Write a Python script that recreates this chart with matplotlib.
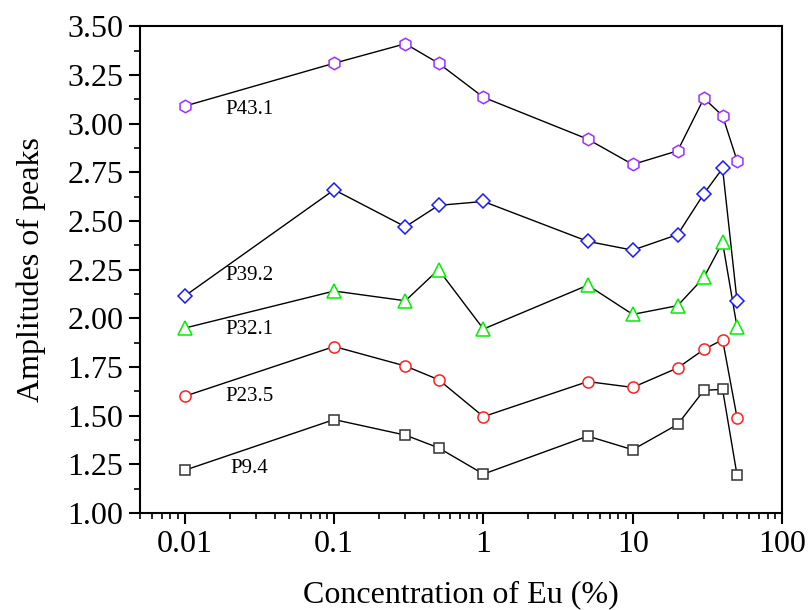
import matplotlib
matplotlib.use('Agg')
import matplotlib.pyplot as plt
from matplotlib.ticker import LogLocator, FixedLocator, NullFormatter, FuncFormatter

plt.rcParams['font.family'] = ['Liberation Serif', 'DejaVu Serif']

# Eu concentration (%) and peak amplitudes
conc = [0.01, 0.1, 0.3, 0.5, 1, 5, 10, 20, 30, 40, 50]
p43_1 = [3.09, 3.31, 3.41, 3.31, 3.135, 2.92, 2.79, 2.86, 3.13, 3.04, 2.81]
p39_2 = [2.115, 2.66, 2.47, 2.58, 2.60, 2.395, 2.35, 2.43, 2.64, 2.77, 2.09]
p32_1 = [1.95, 2.14, 2.09, 2.25, 1.945, 2.17, 2.02, 2.065, 2.21, 2.39, 1.955]
p23_5 = [1.60, 1.855, 1.755, 1.685, 1.495, 1.675, 1.645, 1.745, 1.84, 1.89, 1.49]
p9_4 = [1.22, 1.48, 1.40, 1.335, 1.20, 1.395, 1.325, 1.455, 1.63, 1.635, 1.195]

series = [
    (p43_1, 'P43.1', 'h', '#9B30FF', 9),
    (p39_2, 'P39.2', 'D', '#1A1AFF', 7),
    (p32_1, 'P32.1', '^', '#00EE00', 9.5),
    (p23_5, 'P23.5', 'o', '#FF2020', 8),
    (p9_4, 'P9.4', 's', '#333333', 7),
]
# where each series name sits
label_pos = {'P43.1': (0.027, 3.07), 'P39.2': (0.027, 2.22), 'P32.1': (0.027, 1.945),
             'P23.5': (0.027, 1.60), 'P9.4': (0.027, 1.23)}

fig = plt.figure(figsize=(8.1, 6.1), dpi=100)
ax = fig.add_axes([0.1728, 0.159, 0.7926, 0.798])

for vals, name, mk, col, ms in series:
    ax.plot(conc, vals, color='black', linewidth=1.0, zorder=2)
    ax.plot(conc, vals, linestyle='none', marker=mk, markersize=ms,
            markerfacecolor='white', markeredgecolor=col, markeredgewidth=1.1, zorder=3)
    lx, ly = label_pos[name]
    ax.text(lx, ly, name, fontsize=15, ha='center', va='center', color='black')

ax.set_xscale('log')
ax.set_xlim(0.005, 100)
ax.set_ylim(1.0, 3.5)

ax.xaxis.set_major_locator(FixedLocator([0.01, 0.1, 1, 10, 100]))
ax.xaxis.set_major_formatter(FuncFormatter(lambda v, p: {0.01: '0.01', 0.1: '0.1', 1: '1', 10: '10', 100: '100'}.get(round(v, 4), '')))
ax.xaxis.set_minor_locator(LogLocator(base=10, subs=range(2, 10), numticks=20))
ax.xaxis.set_minor_formatter(NullFormatter())

ax.set_yticks([1.0 + 0.25 * i for i in range(11)])
ax.set_yticks([1.125 + 0.25 * i for i in range(10)], minor=True)
ax.yaxis.set_major_formatter(FuncFormatter(lambda v, p: f'{v:.2f}'))

ax.tick_params(which='major', direction='out', length=8, width=1.5, labelsize=23,
               top=False, right=False, pad=4)
ax.tick_params(which='minor', direction='out', length=4, width=1.2, top=False, right=False)
for sp in ax.spines.values():
    sp.set_linewidth(1.5)

ax.set_xlabel('Concentration of Eu (%)', fontsize=23)
ax.xaxis.set_label_coords(0.5, -0.138)
ax.set_ylabel('Amplitudes of peaks', fontsize=23)
ax.yaxis.set_label_coords(-0.147, 0.5)

fig.savefig('out.png', dpi=100, facecolor='white')
